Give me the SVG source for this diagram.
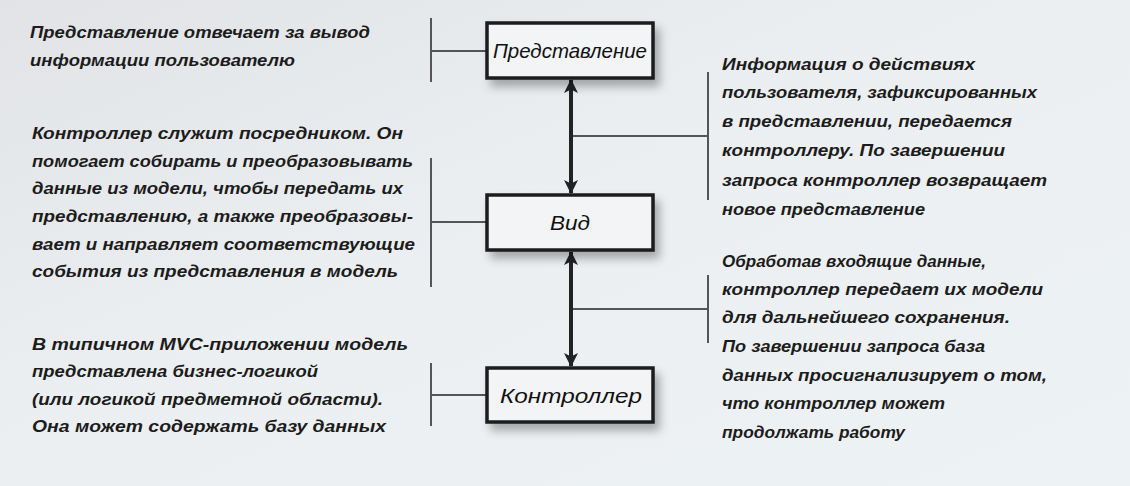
<svg xmlns="http://www.w3.org/2000/svg" width="1130" height="486" viewBox="0 0 1130 486">
  <defs>
    <linearGradient id="bg" x1="0" y1="0" x2="1" y2="1">
      <stop offset="0" stop-color="#e1e3e6"/>
      <stop offset="0.45" stop-color="#eceff1"/>
      <stop offset="1" stop-color="#edf2f5"/>
    </linearGradient>
    <filter id="shadow" x="-20%" y="-30%" width="150%" height="180%">
      <feDropShadow dx="5" dy="7" stdDeviation="5" flood-color="#000" flood-opacity="0.3"/>
    </filter>
    <marker id="ah" viewBox="0 0 14 14" refX="13" refY="7" markerWidth="14" markerHeight="14" markerUnits="userSpaceOnUse" orient="auto-start-reverse">
      <path d="M0,0 L14,7 L0,14 L3.5,7 Z" fill="#222"/>
    </marker>
    <style>
      .t { font-family: "Liberation Sans", "DejaVu Sans", sans-serif; font-style: italic; font-weight: bold; font-size: 17px; fill: #1c1c1c; }
      .lbl { font-family: "Liberation Sans", "DejaVu Sans", sans-serif; font-style: italic; font-size: 21px; fill: #111; text-anchor: middle; }
      .box { fill: #f3f4f5; stroke: #1e1e1e; stroke-width: 3.5; filter: url(#shadow); }
      .br { stroke: #555; stroke-width: 2; fill: none; }
      .ar { stroke: #222; stroke-width: 4; fill: none; marker-start: url(#ah); marker-end: url(#ah); }
    </style>
  </defs>
  <rect width="1130" height="486" fill="url(#bg)"/>

  <g id="connectors">
    <path class="br" d="M431,18 V82 M431,51 H487"/>
    <path class="br" d="M431,158 V287 M431,222 H487"/>
    <path class="br" d="M431,363 V426 M431,395 H487"/>
    <path class="br" d="M708,72 V200 M571,136 H708"/>
    <path class="br" d="M708,275 V343 M571,309 H708"/>
    <line class="ar" x1="571" y1="80" x2="571" y2="193"/>
    <line class="ar" x1="571" y1="252" x2="571" y2="366"/>
  </g>

  <g id="node-view">
    <rect class="box" x="487" y="23" width="166" height="55"/>
    <text class="lbl" x="570" y="58" textLength="154" lengthAdjust="spacingAndGlyphs">Представление</text>
  </g>
  <g id="node-vid">
    <rect class="box" x="487" y="195" width="166" height="55"/>
    <text class="lbl" x="570" y="230" textLength="40" lengthAdjust="spacingAndGlyphs">Вид</text>
  </g>
  <g id="node-controller">
    <rect class="box" x="487" y="368" width="166" height="54"/>
    <text class="lbl" x="571" y="403" textLength="142" lengthAdjust="spacingAndGlyphs">Контроллер</text>
  </g>

  <g id="text-left-1">
    <text class="t" x="30" y="38" textLength="340" lengthAdjust="spacingAndGlyphs">Представление отвечает за вывод</text>
    <text class="t" x="30" y="66" textLength="265" lengthAdjust="spacingAndGlyphs">информации пользователю</text>
  </g>
  <g id="text-left-2">
    <text class="t" x="32" y="139" textLength="371" lengthAdjust="spacingAndGlyphs">Контроллер служит посредником. Он</text>
    <text class="t" x="32" y="167" textLength="381" lengthAdjust="spacingAndGlyphs">помогает собирать и преобразовывать</text>
    <text class="t" x="32" y="194" textLength="371" lengthAdjust="spacingAndGlyphs">данные из модели, чтобы передать их</text>
    <text class="t" x="32" y="222" textLength="381" lengthAdjust="spacingAndGlyphs">представлению, а также преобразовы-</text>
    <text class="t" x="32" y="250" textLength="383" lengthAdjust="spacingAndGlyphs">вает и направляет соответствующие</text>
    <text class="t" x="32" y="277" textLength="366" lengthAdjust="spacingAndGlyphs">события из представления в модель</text>
  </g>
  <g id="text-left-3">
    <text class="t" x="32" y="350" textLength="376" lengthAdjust="spacingAndGlyphs">В типичном MVC-приложении модель</text>
    <text class="t" x="32" y="377" textLength="286" lengthAdjust="spacingAndGlyphs">представлена бизнес-логикой</text>
    <text class="t" x="32" y="405" textLength="351" lengthAdjust="spacingAndGlyphs">(или логикой предметной области).</text>
    <text class="t" x="32" y="432" textLength="354" lengthAdjust="spacingAndGlyphs">Она может содержать базу данных</text>
  </g>
  <g id="text-right-1">
    <text class="t" x="722" y="70" textLength="253" lengthAdjust="spacingAndGlyphs">Информация о действиях</text>
    <text class="t" x="722" y="98" textLength="315" lengthAdjust="spacingAndGlyphs">пользователя, зафиксированных</text>
    <text class="t" x="722" y="127" textLength="290" lengthAdjust="spacingAndGlyphs">в представлении, передается</text>
    <text class="t" x="722" y="156" textLength="283" lengthAdjust="spacingAndGlyphs">контроллеру. По завершении</text>
    <text class="t" x="722" y="186" textLength="325" lengthAdjust="spacingAndGlyphs">запроса контроллер возвращает</text>
    <text class="t" x="722" y="215" textLength="203" lengthAdjust="spacingAndGlyphs">новое представление</text>
  </g>
  <g id="text-right-2">
    <text class="t" x="722" y="267" textLength="264" lengthAdjust="spacingAndGlyphs">Обработав входящие данные,</text>
    <text class="t" x="722" y="295" textLength="321" lengthAdjust="spacingAndGlyphs">контроллер передает их модели</text>
    <text class="t" x="722" y="323" textLength="288" lengthAdjust="spacingAndGlyphs">для дальнейшего сохранения.</text>
    <text class="t" x="722" y="352" textLength="263" lengthAdjust="spacingAndGlyphs">По завершении запроса база</text>
    <text class="t" x="722" y="381" textLength="325" lengthAdjust="spacingAndGlyphs">данных просигнализирует о том,</text>
    <text class="t" x="722" y="409" textLength="223" lengthAdjust="spacingAndGlyphs">что контроллер может</text>
    <text class="t" x="722" y="438" textLength="183" lengthAdjust="spacingAndGlyphs">продолжать работу</text>
  </g>
</svg>
